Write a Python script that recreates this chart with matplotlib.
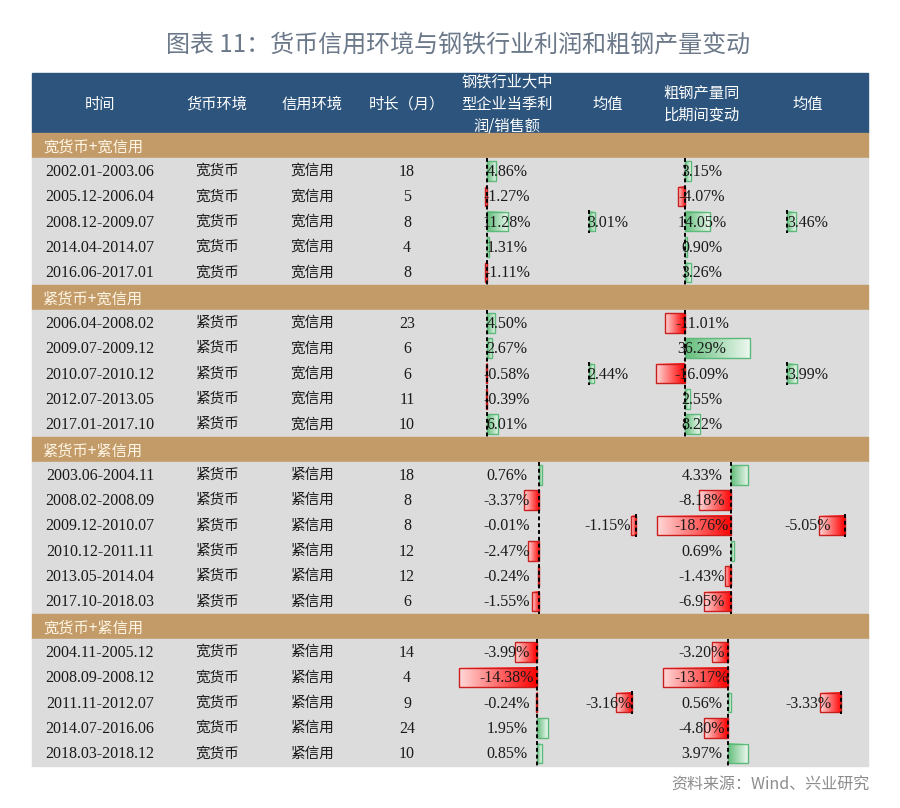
import numpy as np
import matplotlib.pyplot as plt
from matplotlib.colors import LinearSegmentedColormap, to_rgb
from matplotlib.patches import Rectangle

plt.rcParams['font.family'] = ['Noto Sans CJK SC', 'DejaVu Sans']

# ---- data ----
title = "图表 11：货币信用环境与钢铁行业利润和粗钢产量变动"
source = "资料来源：Wind、兴业研究"
headers = ["时间", "货币环境", "信用环境", "时长（月）", "钢铁行业大中\n型企业当季利\n润/销售额",
           "均值", "粗钢产量同\n比期间变动", "均值"]
section_names = ["宽货币+宽信用", "紧货币+宽信用", "紧货币+紧信用", "宽货币+紧信用"]
money_env = ["宽货币", "紧货币", "紧货币", "宽货币"]
credit_env = ["宽信用", "宽信用", "紧信用", "紧信用"]

periods_1 = ["2002.01-2003.06", "2005.12-2006.04", "2008.12-2009.07", "2014.04-2014.07", "2016.06-2017.01"]
months_1 = [18, 5, 8, 4, 8]
profit_1 = [4.86, -1.27, 11.28, 1.31, -1.11]
steel_1 = [3.15, -4.07, 14.05, 0.90, 3.26]

periods_2 = ["2006.04-2008.02", "2009.07-2009.12", "2010.07-2010.12", "2012.07-2013.05", "2017.01-2017.10"]
months_2 = [23, 6, 6, 11, 10]
profit_2 = [4.50, 2.67, -0.58, -0.39, 6.01]
steel_2 = [-11.01, 36.29, -16.09, 2.55, 8.22]

periods_3 = ["2003.06-2004.11", "2008.02-2008.09", "2009.12-2010.07", "2010.12-2011.11",
             "2013.05-2014.04", "2017.10-2018.03"]
months_3 = [18, 8, 8, 12, 12, 6]
profit_3 = [0.76, -3.37, -0.01, -2.47, -0.24, -1.55]
steel_3 = [4.33, -8.18, -18.76, 0.69, -1.43, -6.95]

periods_4 = ["2004.11-2005.12", "2008.09-2008.12", "2011.11-2012.07", "2014.07-2016.06", "2018.03-2018.12"]
months_4 = [14, 4, 9, 24, 10]
profit_4 = [-3.99, -14.38, -0.24, 1.95, 0.85]
steel_4 = [-3.20, -13.17, 0.56, -4.80, 3.97]

profit_mean = [3.01, 2.44, -1.15, -3.16]
steel_mean = [3.46, 3.99, -5.05, -3.33]

periods = [periods_1, periods_2, periods_3, periods_4]
months = [months_1, months_2, months_3, months_4]
profits = [profit_1, profit_2, profit_3, profit_4]
steels = [steel_1, steel_2, steel_3, steel_4]

# ---- layout (pixels) ----
W, H = 900, 808
left, right = 32, 868
head_top, head_bot = 73, 133
row_h = 25.32
col_x = [100, 217, 312, 407, 507, 608, 702, 808]
# axis positions of the data bars per section: profit, profit mean, steel, steel mean
axis_x = [[487, 589, 685, 787], [487, 589, 685, 787], [539, 636, 731, 845], [537, 632, 728, 841]]
# pixels per percent
scale = [[1.88, 2.1, 1.8, 2.5], [1.88, 2.0, 1.78, 2.4], [4.55, 4.35, 3.95, 5.1], [5.4, 5.2, 4.95, 6.4]]
bar_h = 19.5

blue = '#2C547D'
tan = '#C39B69'
gray = '#DCDCDC'
green = '#63BE7B'
red = '#FF0000'


def fade(c, k=0.88):
    r = np.array(to_rgb(c))
    return tuple(r + (1 - r) * k)


cm_green = LinearSegmentedColormap.from_list('g', [green, fade(green)])
cm_red = LinearSegmentedColormap.from_list('r', [fade(red, 0.85), red])
grad = np.linspace(0, 1, 128).reshape(1, -1)

fig = plt.figure(figsize=(W / 100, H / 100), dpi=100)
ax = fig.add_axes([0, 0, 1, 1])
ax.set_xlim(0, W)
ax.set_ylim(H, 0)
ax.axis('off')
ax.set_autoscale_on(False)


def draw_bar(x0, yc, v, k):
    length = v * k
    if abs(length) < 0.3:
        return
    y0, y1 = yc - bar_h / 2, yc + bar_h / 2
    if v > 0:
        ax.imshow(grad, cmap=cm_green, extent=(x0, x0 + length, y1, y0), aspect='auto', zorder=2)
        ax.add_patch(Rectangle((x0, y0), length, bar_h, fill=False, ec='#5DB97A', lw=1, zorder=2.5))
    else:
        ax.imshow(grad, cmap=cm_red, extent=(x0 + length, x0, y1, y0), aspect='auto', zorder=2)
        ax.add_patch(Rectangle((x0 + length, y0), -length, bar_h, fill=False, ec='#C81E1E', lw=1, zorder=2.5))


def pct(v):
    return f"{v:.2f}%"


serif = ['Liberation Serif', 'DejaVu Serif']
cjk = ['Noto Sans CJK SC', 'DejaVu Sans']

ax.text(166, 45, title, ha='left', va='center', fontsize=17.3, color='#6B7889', family=cjk)

# header
ax.add_patch(Rectangle((left, head_top), right - left, head_bot - head_top, color=blue, zorder=1))
for x, h in zip(col_x, headers):
    ax.text(x, (head_top + head_bot) / 2 + 1, h, ha='center', va='center', color='white',
            fontsize=11, family=cjk, linespacing=1.35, zorder=3)

y = head_bot
for s in range(4):
    ax.add_patch(Rectangle((left, y), right - left, row_h, color=tan, zorder=1))
    ax.text(43, y + row_h / 2 + 1, section_names[s], ha='left', va='center', color='#FFF6E5',
            fontsize=11, family=cjk, zorder=3)
    y += row_h
    n = len(periods[s])
    ax.add_patch(Rectangle((left, y), right - left, n * row_h, color=gray, zorder=1))
    top = y
    ax_p, ax_pm, ax_s, ax_sm = axis_x[s]
    k_p, k_pm, k_s, k_sm = scale[s]
    mid = 2
    for i in range(n):
        yc = y + row_h / 2
        ax.text(col_x[0], yc + 1, periods[s][i], ha='center', va='center', fontsize=11.5, family=serif,
                color='#1A1A1A', zorder=3)
        ax.text(col_x[1], yc, money_env[s], ha='center', va='center', fontsize=10.5, family=cjk,
                color='#1A1A1A', zorder=3)
        ax.text(col_x[2], yc, credit_env[s], ha='center', va='center', fontsize=10.5, family=cjk,
                color='#1A1A1A', zorder=3)
        ax.text(col_x[3], yc + 1, str(months[s][i]), ha='center', va='center', fontsize=11.5,
                family=serif, color='#1A1A1A', zorder=3)
        draw_bar(ax_p, yc, profits[s][i], k_p)
        ax.text(col_x[4], yc + 1, pct(profits[s][i]), ha='center', va='center', fontsize=11.5,
                family=serif, color='#1A1A1A', zorder=3)
        draw_bar(ax_s, yc, steels[s][i], k_s)
        ax.text(col_x[6], yc + 1, pct(steels[s][i]), ha='center', va='center', fontsize=11.5,
                family=serif, color='#1A1A1A', zorder=3)
        if i == mid:
            draw_bar(ax_pm, yc, profit_mean[s], k_pm)
            ax.text(col_x[5], yc + 1, pct(profit_mean[s]), ha='center', va='center', fontsize=11.5,
                    family=serif, color='#1A1A1A', zorder=3)
            draw_bar(ax_sm, yc, steel_mean[s], k_sm)
            ax.text(col_x[7], yc + 1, pct(steel_mean[s]), ha='center', va='center', fontsize=11.5,
                    family=serif, color='#1A1A1A', zorder=3)
            for xa in (ax_pm, ax_sm):
                ax.plot([xa, xa], [y + 1, y + row_h - 1], color='black', lw=1.4,
                        linestyle=(0, (2, 1.5)), zorder=4)
        y += row_h
    for xa in (ax_p, ax_s):
        ax.plot([xa, xa], [top, y], color='black', lw=1.4, linestyle=(0, (2, 1.5)), zorder=4)

ax.text(869, 785, source, ha='right', va='center', fontsize=11.5, color='#8C8C8C', family=cjk)

fig.savefig('out.png', dpi=100, facecolor='white')
